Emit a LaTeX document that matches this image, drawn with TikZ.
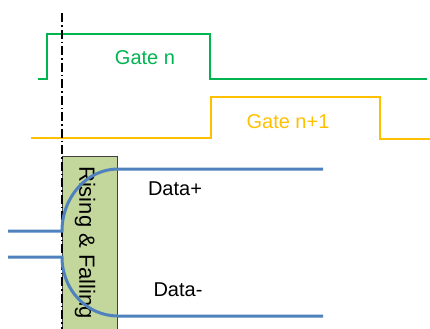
\documentclass[tikz,border=0pt]{standalone}
\usepackage{fontspec}
\setmainfont{Liberation Sans}
\definecolor{gatenc}{RGB}{0,180,80}
\definecolor{gatemc}{RGB}{255,192,0}
\definecolor{datac}{RGB}{79,129,189}
\definecolor{boxfill}{RGB}{195,214,155}
\begin{document}
\begin{tikzpicture}[x=1bp,y=-1bp,
  lbl/.style={inner sep=0pt,font=\fontsize{20bp}{24bp}\selectfont},
  gwave/.style={line width=2.5bp,line join=miter},
  dwave/.style={datac,line width=3bp},
  timeline/.style={black,line width=2bp,dash pattern=on 9bp off 3bp on 1.5bp off 3bp}]
\useasboundingbox (0,0) rectangle (430,329);
\clip (0,0) rectangle (430,329);
% gate n
\draw[gwave,gatenc] (38,79) -- (47,79) -- (47,34) -- (210,34) -- (210,79) -- (427,79);
% gate n+1
\draw[gwave,gatemc] (31,138) -- (211,138) -- (211,97) -- (380,97) -- (380,139) -- (430,139);
% rising & falling box
\node[draw=black!75,line width=0.8bp,fill=boxfill,minimum width=55bp,minimum height=200bp,anchor=north west,inner sep=0pt] (rf) at (62,156) {};
\node[lbl,rotate=-90,anchor=west] (rftxt) at (85,166) {\fontsize{22bp}{24bp}\selectfont Rising \& Falling};
% timing line
\coordinate (ttop) at (62,13);
\coordinate (tbot) at (62,335);
\draw[timeline] (ttop) -- (tbot);
% data lines
\coordinate (inp) at (8,231);
\coordinate (inm) at (8,257);
\coordinate (outp) at (323,169);
\coordinate (outm) at (323,316);
\draw[dwave] (inp) -- (62,231) .. controls (62,197) and (87,169) .. (118,169) -- (outp);
\draw[dwave] (inm) -- (62,257) .. controls (62,290) and (87,316) .. (118,316) -- (outm);
% labels
\node[lbl,text=gatenc] (gn) at (145,58) {Gate n};
\node[lbl,text=gatemc] (gn1) at (288,122) {Gate n+1};
\node[lbl] (dp) at (175,189) {Data+};
\node[lbl] (dm) at (178,290) {Data-};
\end{tikzpicture}
\end{document}
